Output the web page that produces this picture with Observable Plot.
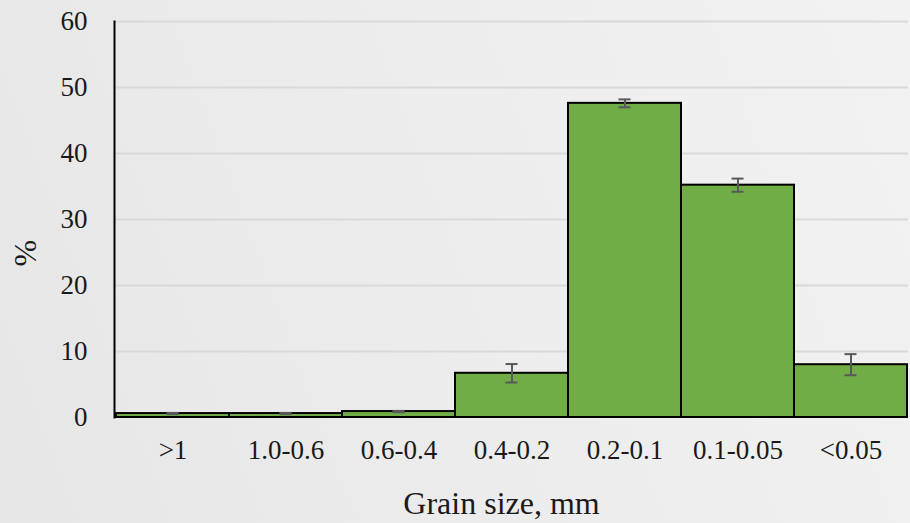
<!DOCTYPE html>
<html>
<head>
<meta charset="utf-8">
<script src="https://cdn.jsdelivr.net/npm/d3@7"></script>
<script src="https://cdn.jsdelivr.net/npm/@observablehq/plot@0.6"></script>
<style>
  html, body { margin: 0; padding: 0; }
  body {
    width: 910px; height: 523px; overflow: hidden;
    background: linear-gradient(70deg, #e6e6e6 0%, #ececec 45%, #f2f2f2 100%);
  }
  #chart svg { display: block; background: transparent; }
</style>
</head>
<body>
<div id="chart"></div>
<script>
// Grain-size fractions (mm) with mean share (%) and error
const categories = [">1", "1.0-0.6", "0.6-0.4", "0.4-0.2", "0.2-0.1", "0.1-0.05", "<0.05"];
const values = [0.6, 0.6, 0.9, 6.7, 47.6, 35.2, 8.0];
const errors = [0.1, 0.1, 0.1, 1.4, 0.6, 1.0, 1.6];
const yTicks = [0, 10, 20, 30, 40, 50, 60];
const xTitle = "Grain size, mm";
const yTitle = "%";

const rows = categories.map((c, i) => ({
  size: c,
  pct: values[i],
  lo: values[i] - errors[i],
  hi: values[i] + errors[i]
}));

const font = "'Liberation Serif', 'Times New Roman', serif";

const chart = Plot.plot({
  width: 910,
  height: 523,
  marginLeft: 114,
  marginRight: 2,
  marginTop: 21,
  marginBottom: 106,
  style: { fontFamily: font, fontSize: "27px", color: "#1a1a1a", background: "transparent" },
  x: { domain: categories, padding: 0 },
  y: { domain: [0, 60] },
  marks: [
    Plot.gridY(yTicks.slice(1), { stroke: "#d9d9d9", strokeOpacity: 1, strokeWidth: 2 }),
    Plot.barY(rows, { x: "size", y: "pct", fill: "#70ad47", stroke: "#000", strokeWidth: 2 }),
    Plot.ruleX(rows, { x: "size", y1: "lo", y2: "hi", stroke: "#595959", strokeWidth: 2 }),
    Plot.tickY(rows, { x: "size", y: "lo", stroke: "#595959", strokeWidth: 2, insetLeft: 50.5, insetRight: 50.5 }),
    Plot.tickY(rows, { x: "size", y: "hi", stroke: "#595959", strokeWidth: 2, insetLeft: 50.5, insetRight: 50.5 }),
    Plot.frame({ anchor: "left", stroke: "#000", strokeWidth: 2 }),
    Plot.axisY({ ticks: yTicks, tickSize: 0, tickPadding: 27, fontSize: 27, label: null }),
    Plot.axisX({ tickSize: 0, tickPadding: 22, fontSize: 27, label: null }),
    // axis titles
    Plot.text([xTitle], { text: d => d, frameAnchor: "bottom", dx: -10, dy: 96, fontSize: 32, fill: "#1a1a1a" }),
    Plot.text([yTitle], { text: d => d, frameAnchor: "left", rotate: -90, dx: -89, dy: 47, fontSize: 32, fill: "#1a1a1a" })
  ]
});

document.getElementById("chart").append(chart);
</script>
</body>
</html>
